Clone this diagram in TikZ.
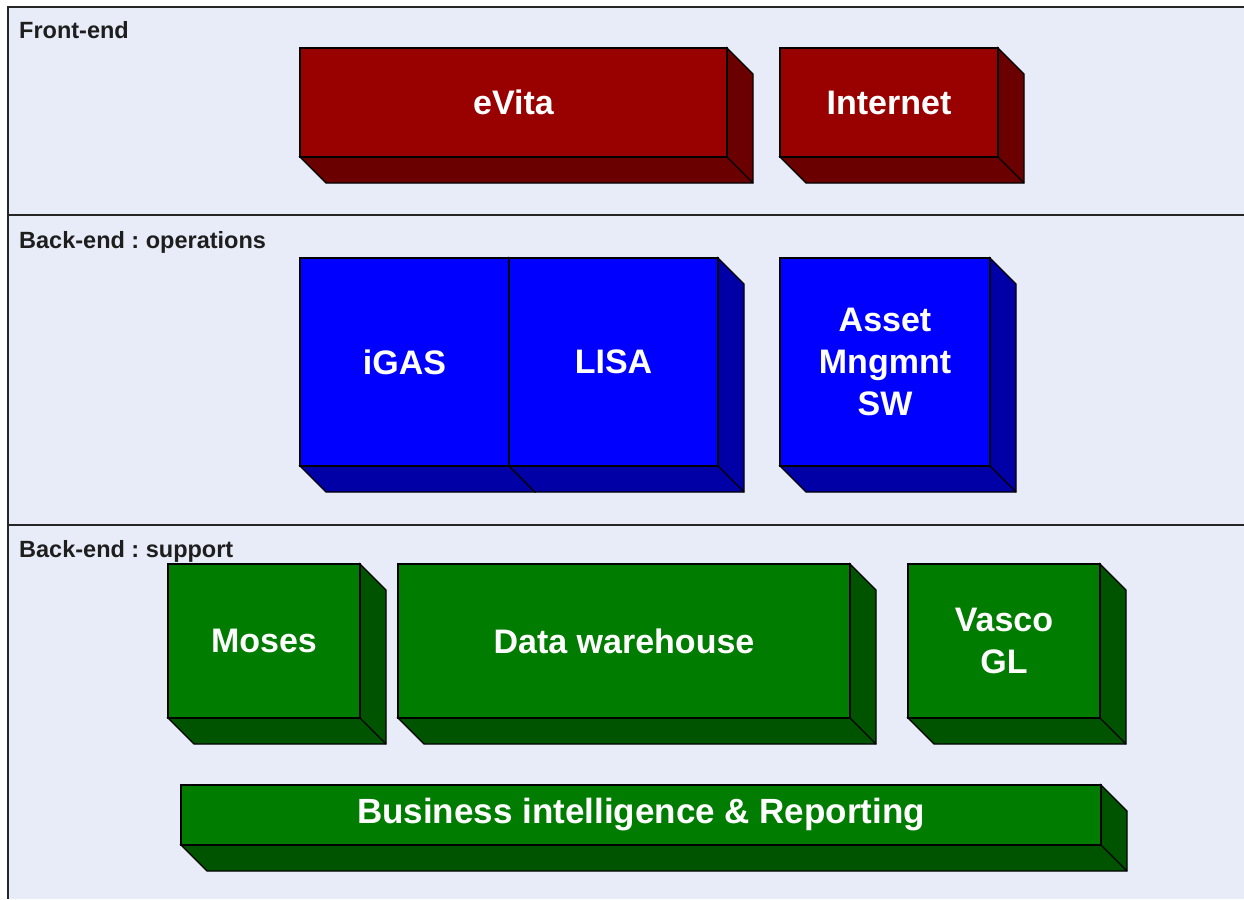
\documentclass[tikz,border=0pt]{standalone}
\usepackage{fontspec}
\setmainfont{Liberation Sans}
\frenchspacing
\definecolor{bgcol}{HTML}{E8ECF8}
\definecolor{redf}{HTML}{990000}
\definecolor{reds}{HTML}{6A0000}
\definecolor{bluef}{HTML}{0000FF}
\definecolor{blues}{HTML}{0000A6}
\definecolor{greenf}{HTML}{007C00}
\definecolor{greens}{HTML}{005400}
\definecolor{headcol}{HTML}{1E1E1E}
\tikzset{
  frontface/.style={draw=black, line width=1.3pt, inner sep=0pt, outer sep=0pt, anchor=north west,
    text=white, font=\fontsize{34}{42}\selectfont\bfseries, align=center},
  sideface/.style={draw=black, line width=1.3pt, line join=miter},
  heading/.style={anchor=base west, inner sep=0pt, text=headcol, font=\fontsize{23.5}{26}\selectfont\bfseries},
  panelline/.style={draw=black!85, line width=1.5pt},
}
% #1 name, #2 x, #3 y, #4 w, #5 h, #6 front colour, #7 side colour, #8 text
\newcommand\cubebox[8]{%
  \node[frontface, fill=#6, minimum width=#4pt, minimum height=#5pt] (#1) at (#2,#3) {#8};
  \filldraw[sideface, fill=#7] (#1.south west) -- ++(26,26) -- ++(#4,0) -- ++(0,-#5) -- (#1.north east) -- (#1.south east) -- cycle;
  \draw[sideface] (#1.south east) -- ++(26,26);
  \node[frontface, fill=#6, minimum width=#4pt, minimum height=#5pt] at (#2,#3) {#8};
}
\begin{document}
\begin{tikzpicture}[x=1pt,y=-1pt]
\useasboundingbox (0,0) rectangle (1244,899);
\fill[white] (0,0) rectangle (1244,899);
\fill[bgcol] (8,7) rectangle (1244,899);
\draw[panelline, line width=2.2pt] (8,899) -- (8,7) -- (1244,7);
\draw[panelline] (8,215) -- (1244,215);
\draw[panelline] (8,525) -- (1244,525);

\node[heading] (hfront) at (19,39) {Front-end};
\node[heading] (hops) at (19,248) {Back-end : operations};
\node[heading] (hsup) at (19,557) {Back-end : support};

\cubebox{evita}{300}{48}{427}{109}{redf}{reds}{eVita}
\cubebox{internet}{780}{48}{218}{109}{redf}{reds}{Internet}

\cubebox{igas}{300}{258}{209}{208}{bluef}{blues}{iGAS}
\cubebox{lisa}{509}{258}{209}{208}{bluef}{blues}{LISA}
\cubebox{asset}{780}{258}{210}{208}{bluef}{blues}{Asset\\Mngmnt\\SW}

\cubebox{moses}{168}{564}{192}{154}{greenf}{greens}{Moses}
\cubebox{dw}{398}{564}{452}{154}{greenf}{greens}{Data warehouse}
\cubebox{vasco}{908}{564}{192}{154}{greenf}{greens}{Vasco\\GL}
\cubebox{bi}{181}{785}{920}{60}{greenf}{greens}{\fontsize{35}{42}\selectfont Business intelligence \& Reporting}
\end{tikzpicture}
\end{document}
